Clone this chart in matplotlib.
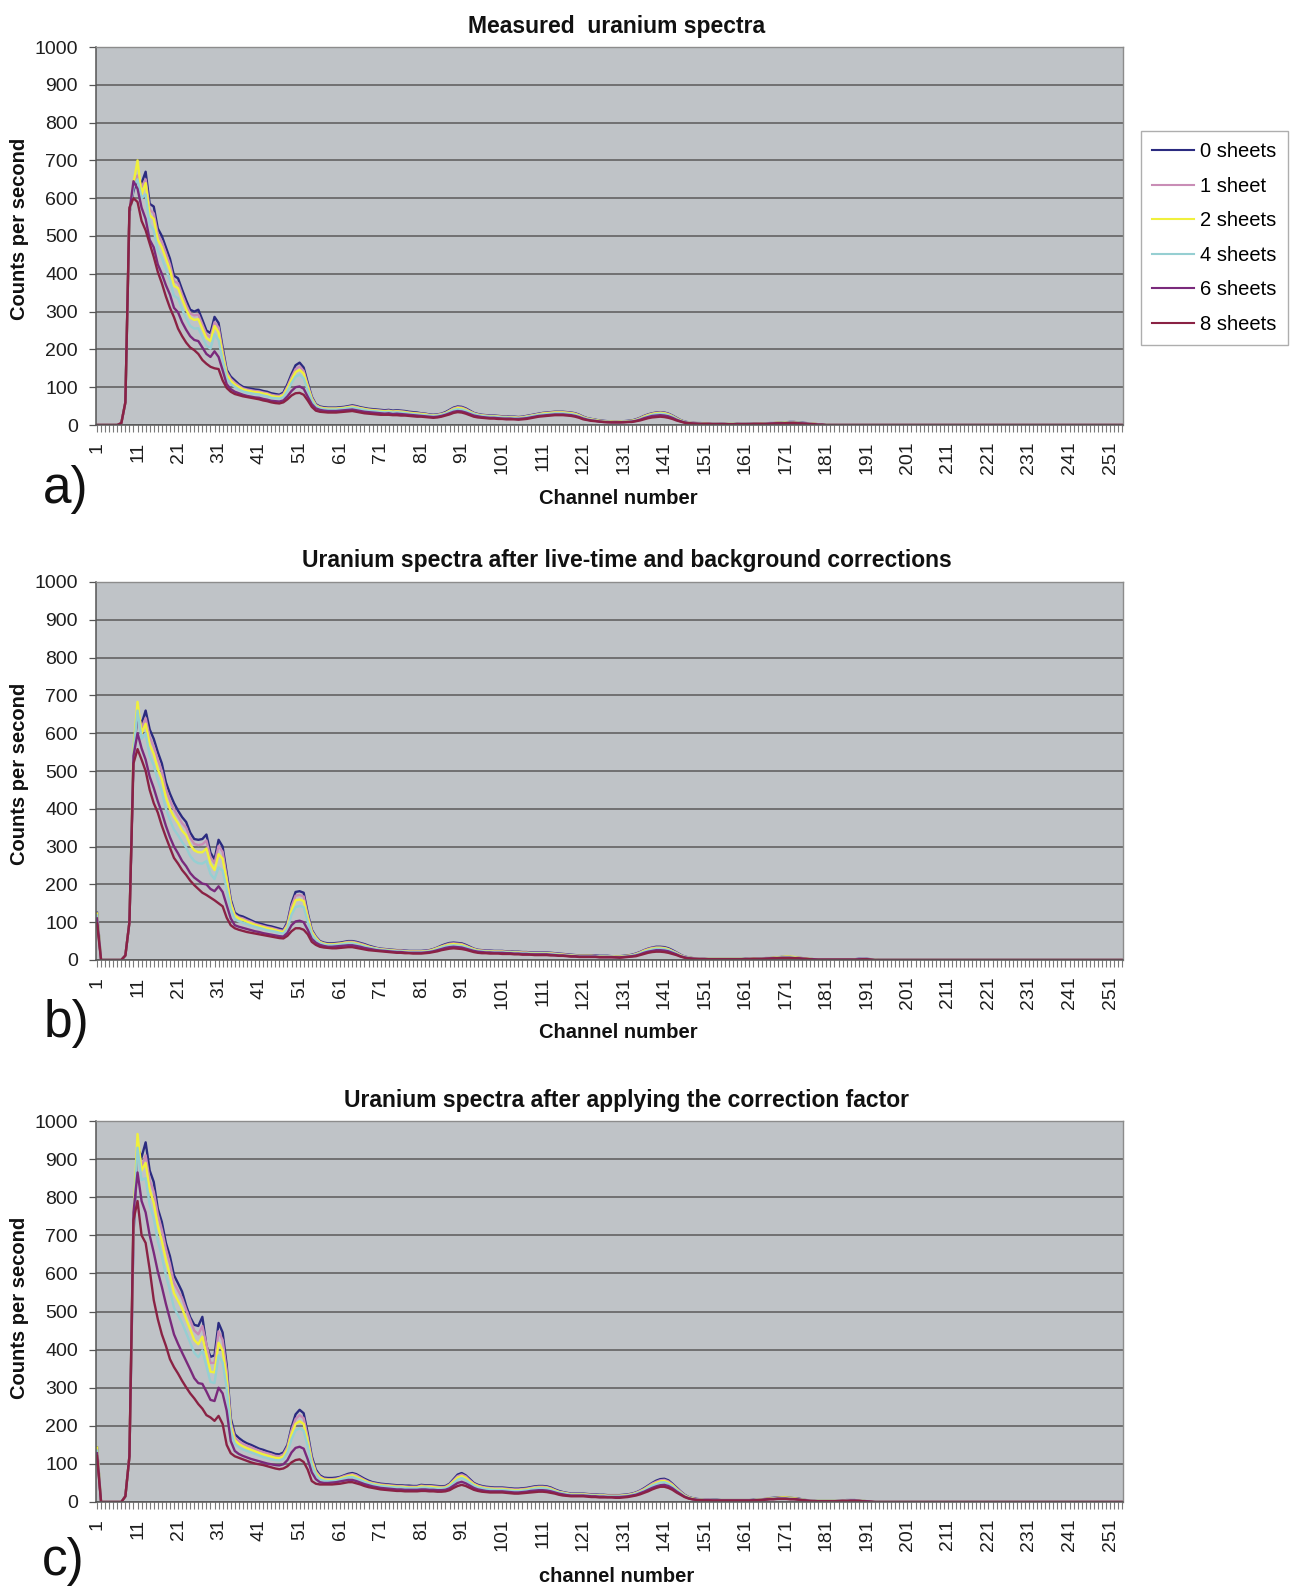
import numpy as np
import matplotlib
matplotlib.use("Agg")
import matplotlib.pyplot as plt
from matplotlib.ticker import FixedLocator

plt.rcParams['font.family'] = ['Liberation Sans', 'DejaVu Sans']

# ---------------- data (counts per second per channel, channel 1 first) ----------------
SERIES_LABELS = ["0 sheets", "1 sheet", "2 sheets", "4 sheets", "6 sheets", "8 sheets"]
TITLES = ["Measured  uranium spectra",
          "Uranium spectra after live-time and background corrections",
          "Uranium spectra after applying the correction factor"]
XLABELS = ["Channel number", "Channel number", "channel number"]
PANEL_TAGS = ["a)", "b)", "c)"]
N_CHANNELS = 254
TICK_CHANNELS = list(range(1, 252, 10))

# Panel a: measured spectra
A_0 = [0,0,0,0,0,0,5,60,560,620, 650,640,670,585,578,520,500,470,440,395,
       388,358,330,305,300,305,278,250,243,286, 270,205,146,128,118,108,101,98,96,94,
       93,90,88,84,82,80,86,108,135,158, 165,152,112,75,55,49,47,46,46,46,
       47,48,50,52,50,47,45,43,42,41, 40,39,40,38,39,38,37,35,34,33,
       31,30,28,27,28,30,34,40,46,49, 48,44,38,32,29,27,26,25,25,24,
       23,23,22,22,21,22,24,26,28,30, 32,33,34,35,35,35,34,33,31,27,
       22,18,16,14,12,11,10,10,9,10, 10,11,12,15,19,24,28,31,33,34,
       33,30,25,19,13,9,7,6,5,5, 4,4,3,3,4,3,3,3,4,3,
       3,4,3,3,4,4,5,5,6,7, 7,8,8,7,6,5,4,3,2,1, 1,0]
A_1 = [0,0,0,0,0,0,5,60,560,630, 660,630,650,570,560,505,485,455,425,380,
       375,345,318,295,290,292,266,240,232,272, 258,196,140,122,112,104,97,94,92,90,
       89,86,84,80,78,77,82,102,127,148, 155,143,106,72,53,47,45,44,44,44,
       45,46,48,50,48,45,43,41,40,39, 38,37,38,36,37,36,35,33,32,31,
       30,29,27,26,27,29,32,38,44,47, 46,42,36,31,28,26,25,24,24,23,
       22,22,21,21,20,21,23,25,27,29, 31,32,33,34,34,34,33,32,30,26,
       21,17,15,13,11,10,9,9,9,9, 10,10,11,14,18,23,27,30,32,33,
       32,29,24,18,12,8,7,6,5,4, 4,4,3,3,3,3,3,3,3,3,
       3,3,3,3,4,4,5,5,6,6, 7,7,7,6,5,5,4,3,2,1, 1,0]
A_2 = [0,0,0,0,0,0,5,60,560,640, 700,610,640,555,545,490,470,440,410,368,
       362,333,306,284,278,280,255,230,222,262, 245,185,134,117,107,100,94,91,89,87,
       86,83,81,77,75,74,79,97,120,140, 146,136,101,69,51,46,44,43,43,43,
       44,45,47,48,46,44,42,40,39,38, 37,36,37,35,36,35,34,32,31,30,
       29,28,26,25,26,28,31,37,42,45, 44,40,35,30,27,25,24,23,23,22,
       21,21,20,20,19,20,22,24,26,28, 30,31,32,33,33,33,32,31,29,25,
       20,17,15,13,11,10,9,9,8,9, 9,10,11,13,17,22,26,29,31,32,
       31,28,23,17,12,8,6,5,5,4, 4,3,3,3,3,3,3,3,3,3,
       3,3,3,3,4,4,4,5,6,6, 7,7,7,6,5,4,3,3,2,1, 1,0]
A_4 = [0,0,0,0,0,0,5,60,560,630, 650,600,610,530,515,462,442,412,382,342,
       335,306,282,262,255,256,233,210,202,240, 225,172,125,109,101,94,89,86,84,82,
       81,78,76,72,71,70,74,90,111,128, 133,124,93,65,49,44,42,41,41,41,
       42,43,45,46,44,42,40,38,37,36, 35,34,35,33,34,33,32,30,29,28,
       27,26,25,24,25,27,30,35,40,42, 41,38,33,29,26,24,23,22,22,21,
       20,20,19,19,18,19,21,23,25,27, 28,29,30,31,31,31,30,29,27,23,
       19,16,14,12,10,9,9,8,8,8, 9,9,10,12,16,20,24,27,29,30,
       29,26,22,16,11,8,6,5,4,4, 3,3,3,3,3,3,3,3,3,3,
       3,3,3,3,3,4,4,5,5,6, 6,7,6,6,5,4,3,2,2,1, 1,0]
A_6 = [0,0,0,0,0,0,5,60,565,645, 625,575,545,490,470,425,400,370,345,310,
       298,272,252,235,225,222,205,188,180,195, 180,145,108,95,88,84,80,77,75,73,
       72,69,67,64,63,62,65,76,90,100, 102,96,75,55,44,40,38,37,37,37,
       38,39,40,41,39,37,35,34,33,32, 31,30,31,29,30,29,28,27,26,25,
       24,23,22,21,22,24,27,31,35,37, 36,33,29,25,23,21,20,19,19,18,
       17,17,17,16,16,17,18,20,22,24, 25,26,27,28,28,28,27,26,24,21,
       17,14,12,11,9,8,8,7,7,7, 8,8,9,11,14,18,21,24,25,26,
       25,23,19,14,10,7,5,4,4,3, 3,3,3,3,3,3,2,2,3,3,
       3,3,3,3,3,3,4,4,5,5, 5,6,6,5,4,4,3,2,1,1, 0]
A_8 = [0,0,0,0,0,0,5,60,575,600, 590,540,515,480,445,405,375,340,310,285,
       255,235,218,205,198,188,172,162,154,150, 148,118,98,88,82,79,76,74,72,70,
       68,65,63,60,58,57,60,68,78,84, 85,80,65,48,38,35,34,33,33,33,
       34,35,36,37,35,33,31,30,29,28, 27,27,27,26,26,25,25,24,23,22,
       22,21,20,19,20,22,25,28,32,34, 33,30,26,22,20,19,18,17,17,16,
       16,15,15,15,14,15,16,18,20,22, 23,24,25,26,26,26,25,24,22,19,
       15,13,11,10,9,8,7,7,7,7, 7,8,8,10,12,15,18,20,21,22,
       21,19,16,12,9,6,5,4,3,3, 3,3,2,2,2,2,2,2,2,2,
       2,2,3,3,3,3,3,4,4,4, 5,5,5,4,4,3,2,2,1,1, 0]

# Panel b: after live-time and background corrections
B_0 = [125,0,0,0,0,0,0,12,100,540, 650,625,660,610,585,550,520,470,440,415,
       395,378,365,337,320,318,320,332,284,266, 318,300,230,160,125,118,115,110,105,100,
       97,94,91,89,86,83,80,100,150,180, 182,178,124,80,62,50,46,44,44,45,
       46,48,50,50,48,45,42,38,35,32, 30,29,28,27,26,26,25,24,24,24,
       24,25,26,29,33,38,42,45,46,45, 44,40,35,30,27,26,25,25,24,24,
       24,23,23,22,22,21,21,20,20,20, 20,20,19,18,17,16,15,14,13,12,
       12,12,12,12,11,11,11,10,10,10, 11,12,14,17,21,26,30,33,35,35,
       34,31,26,20,14,9,7,5,4,4, 3,3,3,3,3,3,3,3,3,3,
       4,4,4,4,4,5,5,6,7,8, 8,8,7,6,5,4,3,2,1,1,
       1,1,1,1,1,1,1,2,3,3, 3,2,1,0]
B_1 = [120,0,0,0,0,0,0,12,100,545, 660,615,640,590,565,530,500,452,423,398,
       380,362,350,323,307,304,306,316,272,256, 302,286,220,153,120,113,110,105,101,96,
       93,90,87,85,82,79,77,95,142,170, 172,168,118,77,60,48,44,42,42,43,
       44,46,48,48,46,43,40,36,33,31, 29,28,27,26,25,25,24,23,23,23,
       23,24,25,28,32,36,40,43,44,43, 42,38,33,29,26,25,24,24,23,23,
       23,22,22,21,21,20,20,19,19,19, 19,19,18,17,16,15,14,13,12,11,
       11,11,11,11,10,10,10,10,9,9, 10,11,13,16,20,25,29,32,33,33,
       32,29,24,19,13,9,6,5,4,4, 3,3,3,3,3,3,3,3,3,3,
       3,4,4,4,4,5,5,6,7,7, 8,7,7,6,5,4,3,2,1,1,
       1,1,1,1,1,1,1,2,2,3, 2,2,1,0]
B_2 = [123,0,0,0,0,0,0,12,100,560, 683,600,625,570,545,505,478,430,400,378,
       362,342,330,305,290,285,285,295,255,238, 280,268,210,148,117,110,106,101,97,93,
       90,87,84,82,79,76,74,90,132,158, 160,156,112,74,58,47,43,41,41,42,
       43,45,46,46,44,41,38,35,32,30, 28,27,26,25,24,24,23,22,22,22,
       22,23,24,27,31,35,38,41,42,41, 40,36,32,28,25,24,23,23,22,22,
       22,21,21,20,20,19,19,18,18,18, 18,18,17,16,15,14,13,12,11,11,
       11,11,11,10,10,10,9,9,9,9, 10,11,12,15,19,24,27,30,32,32,
       31,28,23,18,12,8,6,5,4,3, 3,3,3,3,3,3,3,3,3,3,
       3,3,4,4,4,5,5,6,7,8, 9,9,8,6,5,4,3,2,1,1,
       1,1,1,1,1,1,1,2,2,2, 2,1,1,0]
B_4 = [118,0,0,0,0,0,0,12,100,550, 660,585,600,540,515,475,445,400,370,345,
       330,312,298,275,262,256,255,262,228,214, 245,236,188,135,108,102,99,95,91,88,
       85,82,79,77,75,72,70,84,120,140, 143,140,102,68,54,45,41,39,39,40,
       41,43,44,44,42,39,36,33,31,29, 27,26,25,24,23,23,22,21,21,21,
       21,22,23,25,29,33,36,38,39,38, 37,34,30,26,24,23,22,22,21,21,
       21,20,20,19,19,18,18,17,17,17, 17,17,16,15,14,13,12,11,11,10,
       10,10,10,10,9,9,9,9,8,8, 9,10,12,14,18,22,25,28,30,30,
       29,26,22,17,11,8,6,4,4,3, 3,3,3,3,3,3,3,3,3,3,
       3,3,3,4,4,4,5,5,6,7, 7,7,6,5,4,3,3,2,1,1,
       1,1,1,1,1,1,1,1,2,2, 2,1,1,0]
B_6 = [110,0,0,0,0,0,0,12,100,540, 600,560,530,485,455,420,390,355,325,300,
       282,262,248,230,218,210,202,200,188,182, 195,180,145,110,92,88,85,82,79,76,
       74,71,69,67,65,63,62,72,92,102, 104,100,80,56,46,40,37,35,35,36,
       37,38,39,39,37,35,32,30,28,26, 25,24,23,22,21,21,20,19,19,19,
       19,20,21,23,26,29,32,34,35,34, 33,30,27,24,22,21,20,20,19,19,
       19,18,18,17,17,16,16,15,15,15, 15,15,14,13,12,12,11,10,10,9,
       9,9,9,9,8,8,8,8,7,7, 8,9,10,12,15,19,22,24,26,26,
       25,23,19,15,10,7,5,4,3,3, 3,2,2,2,2,2,2,2,2,2,
       3,3,3,3,3,4,4,5,5,6, 6,6,5,5,4,3,2,2,1,1,
       1,1,1,1,1,1,1,1,2,2, 2,1,0]
B_8 = [97,0,0,0,0,0,0,12,100,520, 558,530,500,450,415,390,355,325,297,270,
       255,238,225,210,198,188,178,172,165,158, 150,142,112,92,84,80,77,74,72,70,
       68,66,64,62,60,58,57,64,76,84, 84,80,68,48,40,35,33,32,31,31,
       32,33,34,34,32,30,28,26,25,24, 23,22,21,20,19,19,18,18,17,17,
       17,18,19,21,23,26,28,30,31,30, 29,27,24,21,19,18,18,17,17,17,
       16,16,16,15,15,14,14,14,13,13, 13,13,12,12,11,11,10,9,9,8,
       8,8,8,8,7,7,7,7,7,6, 7,8,9,10,13,16,19,21,22,22,
       21,19,16,13,9,6,4,3,3,2, 2,2,2,2,2,2,2,2,2,2,
       2,2,3,3,3,3,4,4,5,5, 5,5,5,4,3,3,2,1,1,1,
       1,1,1,1,1,1,1,1,1,2, 2,1,0]

# Panel c: after applying the correction factor
C_0 = [143,0,0,0,0,0,0,15,120,700, 930,905,944,870,840,770,735,680,645,595,
       574,552,515,485,465,462,486,410,381,385, 470,445,360,220,178,168,160,154,150,145,
       140,137,133,130,126,125,130,150,196,230, 242,233,180,120,85,70,64,63,63,64,
       66,70,74,76,73,67,61,56,52,50, 48,47,46,45,44,44,43,43,42,42,
       45,44,44,43,42,41,42,48,60,72, 76,70,60,50,45,42,40,39,38,38,
       38,37,36,35,35,36,37,39,41,42, 42,41,38,33,29,26,24,22,22,22,
       22,21,20,20,19,19,18,18,18,18, 19,20,22,25,30,36,43,50,56,60,
       61,57,48,38,28,19,13,10,8,7, 6,6,6,6,5,5,5,5,5,5,
       5,5,6,6,7,8,10,11,12,12, 12,11,10,9,7,5,4,3,3,3,
       3,3,3,3,4,5,5,5,4,3, 2,1,0]
C_1 = [138,0,0,0,0,0,0,15,120,720, 935,880,910,845,815,755,715,665,625,575,
       555,535,505,478,450,440,462,414,365,365, 448,425,345,210,170,160,153,148,144,139,
       135,131,128,125,121,120,125,145,188,218, 228,220,170,113,80,67,61,60,60,61,
       64,68,71,73,70,64,58,53,50,48, 46,45,44,43,42,42,41,40,40,40,
       43,42,42,41,40,39,40,46,57,68, 72,67,57,48,43,40,38,37,36,36,
       36,35,34,33,33,34,35,37,39,40, 40,39,36,31,27,25,23,21,21,21,
       21,20,19,19,18,18,17,17,17,17, 18,19,21,24,29,34,41,48,53,57,
       58,54,46,36,27,18,12,9,7,6, 6,6,5,5,5,5,5,5,5,5,
       5,5,5,6,7,8,9,10,11,11, 11,10,9,8,6,5,4,3,3,3,
       3,3,3,3,4,4,5,4,4,3, 2,1,0]
C_2 = [143,0,0,0,0,0,0,15,120,750, 966,870,890,820,785,725,685,635,595,548,
       528,508,480,453,425,414,434,388,342,340, 418,398,325,200,162,152,146,141,137,133,
       129,125,122,119,116,115,120,138,178,205, 212,205,160,106,76,64,59,58,58,59,
       62,65,68,70,66,61,56,51,48,46, 44,43,42,41,40,40,39,38,38,38,
       41,40,40,39,38,37,38,44,54,64, 68,63,54,46,41,38,36,35,34,34,
       34,33,32,31,31,32,33,35,37,38, 38,37,34,30,26,24,22,20,20,20,
       20,19,18,18,17,17,16,16,16,16, 17,18,20,23,27,32,39,45,50,54,
       55,51,44,34,25,17,12,9,7,6, 5,5,5,5,5,5,5,5,5,5,
       5,5,5,6,7,8,9,10,11,12, 12,11,10,8,6,5,4,3,3,3,
       3,3,3,3,3,4,4,4,3,3, 2,1,0]
C_4 = [135,0,0,0,0,0,0,15,120,740, 930,845,850,780,745,685,645,595,555,510,
       490,470,444,418,392,380,398,356,315,312, 385,366,300,188,153,144,138,134,130,126,
       122,118,115,112,110,109,113,130,165,188, 194,187,147,98,72,60,56,55,55,56,
       59,62,65,66,62,58,53,49,46,44, 42,41,40,39,38,38,37,36,36,36,
       38,38,37,36,35,35,36,41,50,59, 63,58,50,43,38,36,34,33,32,32,
       32,31,30,29,29,30,31,33,35,36, 36,35,32,28,25,23,21,19,19,19,
       19,18,17,17,16,16,15,15,15,15, 16,17,19,22,26,30,37,43,47,51,
       52,48,41,32,24,16,11,8,7,6, 5,5,5,5,5,5,5,5,5,5,
       5,5,5,6,6,7,8,9,10,10, 10,9,8,7,6,5,4,3,3,3,
       3,3,3,3,3,4,4,4,3,3, 2,1,0]
C_6 = [128,0,0,0,0,0,0,15,120,760, 865,790,760,700,655,605,565,520,480,440,
       415,392,370,348,325,312,310,290,268,265, 300,285,240,160,134,126,121,117,113,110,
       107,104,101,99,97,96,99,110,130,142, 145,140,112,78,60,52,50,50,51,52,
       54,56,58,58,55,51,47,44,41,39, 37,36,35,34,33,33,32,32,32,32,
       33,33,32,32,31,31,32,36,43,50, 53,49,43,37,33,31,29,28,28,28,
       28,27,26,25,25,26,27,29,30,31, 31,30,28,25,22,20,18,17,17,17,
       17,16,15,15,14,14,13,13,13,13, 14,15,17,19,23,27,32,37,41,44,
       45,42,36,28,21,14,10,7,6,5, 5,5,4,4,4,4,4,4,4,4,
       4,4,5,5,6,7,8,8,9,9, 9,8,8,7,5,4,3,3,2,2,
       2,2,2,3,3,3,4,4,3,2, 2,1,0]
C_8 = [121,0,0,0,0,0,0,15,120,740, 790,700,680,610,530,480,440,410,375,354,
       337,318,301,285,272,257,245,228,222,213, 226,205,150,128,120,116,112,108,104,101,
       99,97,94,91,88,86,88,94,104,110, 112,105,85,55,48,46,46,46,46,47,
       48,50,52,52,49,46,42,39,37,35, 33,32,31,30,29,29,28,28,28,28,
       29,29,28,28,27,27,28,31,37,42, 45,42,37,32,29,27,26,25,25,25,
       25,24,23,22,22,23,24,25,26,27, 27,26,24,22,19,17,16,15,15,15,
       15,14,13,13,12,12,12,12,11,11, 12,13,15,17,20,24,28,33,37,40,
       40,37,32,25,19,13,9,7,5,5, 4,4,4,4,4,4,4,4,4,4,
       4,4,4,5,5,6,7,7,8,8, 8,7,7,6,5,4,3,2,2,2,
       2,2,2,2,3,3,3,3,3,2, 1,1,0]

PANELS = [[A_0, A_1, A_2, A_4, A_6, A_8],
          [B_0, B_1, B_2, B_4, B_6, B_8],
          [C_0, C_1, C_2, C_4, C_6, C_8]]

# ---------------- styling ----------------
COLORS = ['#2b2b80', '#c98db6', '#f0f03c', '#96cfd2', '#7a2a7c', '#8a2244']
W, H = 1290, 1587
BG = '#bfc3c7'
GRID = '#6a6a6a'

fig = plt.figure(figsize=(W / 100, H / 100), dpi=100)
fig.patch.set_facecolor('white')

# axes pixel boxes: (left, top, right, bottom)
BOXES = [(96, 47, 1123, 425), (96, 582, 1123, 960), (96, 1121, 1123, 1502)]
TITLE_POS = [(617, 26), (627, 560), (627, 1101)]
XLABEL_POS = [(618, 498), (618, 1032), (617, 1577)]
YLABEL_Y = [229, 774, 1308]
TAG_POS = [(66, 489), (66, 1024), (63, 1561)]


def fx(x):
    return x / W


def fy(y):
    return 1 - y / H


channels = np.arange(1, N_CHANNELS + 1)

for p, (box, series) in enumerate(zip(BOXES, PANELS)):
    l, t, r, b = box
    ax = fig.add_axes([fx(l), fy(b), (r - l) / W, (b - t) / H])
    ax.set_facecolor(BG)
    lines = []
    for vals, col, lab in zip(series, COLORS, SERIES_LABELS):
        v = np.zeros(N_CHANNELS)
        arr = np.asarray(vals, dtype=float)[:N_CHANNELS]
        v[:len(arr)] = arr
        ln, = ax.plot(channels, v, color=col, lw=1.7, label=lab,
                      solid_joinstyle='round', clip_on=True)
        lines.append(ln)
    ax.set_xlim(0.75, 254.2)
    ax.set_ylim(0, 1000)
    ax.set_yticks(range(0, 1001, 100))
    ax.yaxis.grid(True, color=GRID, lw=1.3)
    ax.set_axisbelow(True)
    ax.xaxis.set_major_locator(FixedLocator(TICK_CHANNELS))
    ax.set_xticklabels([str(c) for c in TICK_CHANNELS])
    ax.xaxis.set_minor_locator(FixedLocator(list(range(1, N_CHANNELS + 1))))
    ax.tick_params(axis='x', which='both', direction='out', length=5, width=0.8,
                   color='#7a7a7a')
    ax.tick_params(axis='x', which='major', labelrotation=90, labelsize=14,
                   pad=7, labelcolor='#1e1e1e')
    ax.tick_params(axis='y', direction='out', length=5, width=0.9, color='#555555',
                   labelsize=14, pad=8, labelcolor='#1e1e1e')
    for s in ['top', 'right']:
        ax.spines[s].set_color('#8c8c8c')
        ax.spines[s].set_linewidth(1.0)
    ax.spines['left'].set_color('#555555')
    ax.spines['left'].set_linewidth(1.1)
    ax.spines['bottom'].set_color('#555555')
    ax.spines['bottom'].set_linewidth(1.1)

    fig.text(fx(TITLE_POS[p][0]), fy(TITLE_POS[p][1]), TITLES[p], ha='center',
             va='center', fontsize=16.5, fontweight='bold', color='#111111')
    fig.text(fx(XLABEL_POS[p][0]), fy(XLABEL_POS[p][1]), XLABELS[p], ha='center',
             va='center', fontsize=14.5, fontweight='bold', color='#111111')
    fig.text(fx(20), fy(YLABEL_Y[p]), "Counts per second", ha='center', va='center',
             rotation=90, fontsize=14.5, fontweight='bold', color='#111111')
    fig.text(fx(TAG_POS[p][0]), fy(TAG_POS[p][1]), PANEL_TAGS[p], ha='center',
             va='center', fontsize=37, color='#111111')

    if p == 0:
        leg = fig.legend(handles=lines, labels=SERIES_LABELS, loc='upper left',
                         bbox_to_anchor=(fx(1141), fy(131)),
                         bbox_transform=fig.transFigure, fontsize=14.5,
                         frameon=True, fancybox=False, edgecolor='#9a9a9a',
                         handlelength=2.1, handletextpad=0.3, labelspacing=0.77,
                         borderpad=0.55, borderaxespad=0)
        leg.get_frame().set_linewidth(1.0)
        for h in leg.get_lines():
            h.set_linewidth(1.5)

fig.savefig("out.png", dpi=100, facecolor='white')
